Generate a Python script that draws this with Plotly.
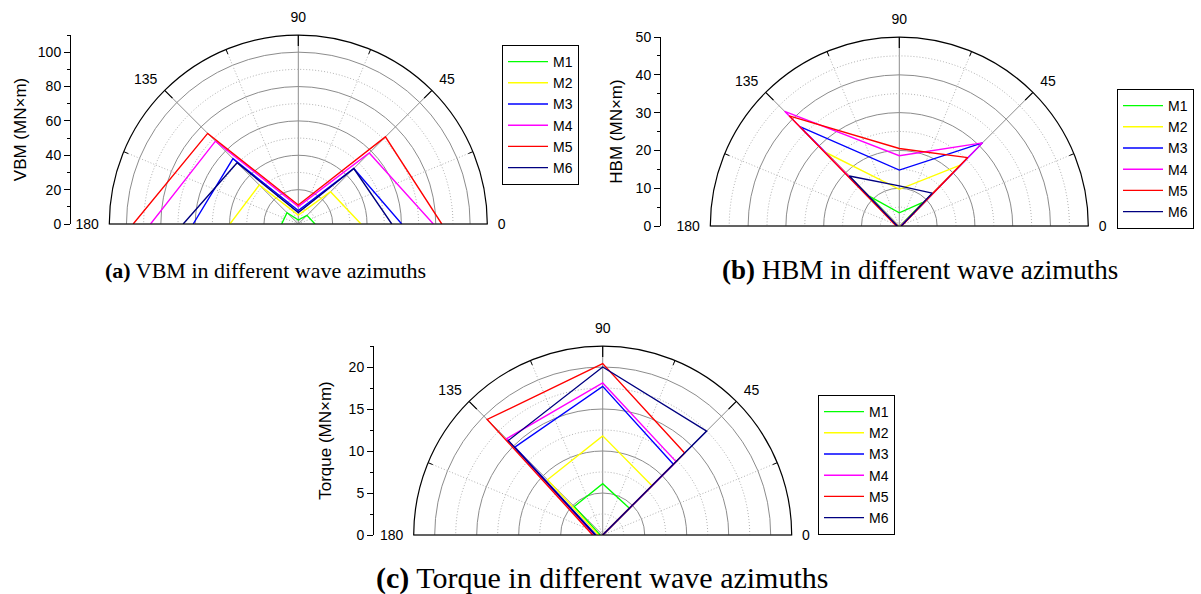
import numpy as np
import plotly.graph_objects as go

W, H = 1201, 594

# ---------------- data ----------------
angles = [0, 45, 90, 135, 180]          # wave azimuth (deg)
angle_labels = ["0", "45", "90", "135", "180"]
series_names = ["M1", "M2", "M3", "M4", "M5", "M6"]
series_colors = ["#00ff00", "#ffff00", "#0000ff", "#ff00ff", "#ff0000", "#000080"]

# (a) VBM (MN×m) at azimuths 0,45,90,135,180
vbm_m1 = [9.7, 7.1, 2.3, 9.3, 9.7]
vbm_m2 = [36.5, 26.5, 5.2, 32.1, 39.8]
vbm_m3 = [60.2, 45.7, 7.8, 53.8, 61.2]
vbm_m4 = [78.6, 58.4, 10.1, 68.2, 86.0]
vbm_m5 = [83.5, 71.7, 11.1, 74.6, 96.1]
vbm_m6 = [54.4, 45.7, 6.6, 50.4, 67.0]

# (b) HBM (MN×m)
hbm_m1 = [0.3, 8.8, 3.5, 11.1, 0.3]
hbm_m2 = [0.3, 22.8, 9.7, 27.5, 0.3]
hbm_m3 = [0.5, 31.1, 14.8, 37.2, 0.5]
hbm_m4 = [0.4, 31.1, 18.6, 42.9, 0.4]
hbm_m5 = [0.6, 25.6, 20.5, 41.2, 0.8]
hbm_m6 = [0.5, 12.3, 10.6, 18.7, 0.5]

# (c) Torque (MN×m)
tq_m1 = [0.0, 4.5, 6.1, 4.8, 0.3]
tq_m2 = [0.0, 8.3, 11.8, 9.3, 0.5]
tq_m3 = [0.0, 11.9, 17.7, 14.8, 0.8]
tq_m4 = [0.0, 12.35, 18.1, 16.2, 1.0]
tq_m5 = [0.0, 13.8, 20.4, 19.45, 1.2]
tq_m6 = [0.0, 17.5, 20.0, 15.9, 0.9]

# ---------------- panel configuration ----------------
R = 189.0  # polar radius in px
panels = [
    dict(sp="polar", n="", data=[vbm_m1, vbm_m2, vbm_m3, vbm_m4, vbm_m5, vbm_m6],
         rmax=110, grid_step=20, minor_step=10, title="VBM (MN×m)",
         cx=298.3, cy=224, axis_x=71, standoff=6, legend="legend",
         leg=(502, 45), caption=("(a)", " VBM in different wave azimuths"),
         cap=(265, 270), capsize=22),
    dict(sp="polar2", n="2", data=[hbm_m1, hbm_m2, hbm_m3, hbm_m4, hbm_m5, hbm_m6],
         rmax=50, grid_step=10, minor_step=5, title="HBM (MN×m)",
         cx=899.3, cy=226, axis_x=661, standoff=8, legend="legend2",
         leg=(1117, 89), caption=("(b)", " HBM in different wave azimuths"),
         cap=(920, 270), capsize=27),
    dict(sp="polar3", n="3", data=[tq_m1, tq_m2, tq_m3, tq_m4, tq_m5, tq_m6],
         rmax=22.5, grid_step=5, minor_step=2.5, title="Torque (MN×m)",
         cx=602.7, cy=535, axis_x=374, standoff=12, legend="legend3",
         leg=(818, 395), caption=("(c)", " Torque in different wave azimuths"),
         cap=(602, 578), capsize=30),
]

SOLID_GRID = "#8c8c8c"
DOT_GRID = "#b0b0b0"
FONT = "Liberation Sans"

fig = go.Figure()
layout = dict(template="none", width=W, height=H, margin=dict(l=0, r=0, t=0, b=0, pad=0),
              paper_bgcolor="white", plot_bgcolor="white", showlegend=True,
              annotations=[])

th_arc = np.linspace(0, 180, 181)
minor_angles = [22.5, 67.5, 112.5, 157.5]
major_tick_angles = [45, 90, 135]

for p in panels:
    sp, rmax = p["sp"], p["rmax"]
    solid = list(np.arange(p["grid_step"], rmax, p["grid_step"]))
    dotted = list(np.arange(p["minor_step"], rmax, p["grid_step"]))
    # dotted circles
    for lv in dotted:
        fig.add_trace(go.Scatterpolar(r=np.full_like(th_arc, lv), theta=th_arc, mode="lines",
                                      line=dict(color=DOT_GRID, width=1, dash="1px,2px"),
                                      subplot=sp, showlegend=False, hoverinfo="skip"))
    # dotted radial lines + minor ticks on outer arc
    for a in minor_angles:
        fig.add_trace(go.Scatterpolar(r=[0, rmax], theta=[a, a], mode="lines",
                                      line=dict(color=DOT_GRID, width=1, dash="1px,2px"),
                                      subplot=sp, showlegend=False, hoverinfo="skip"))
        fig.add_trace(go.Scatterpolar(r=[rmax * (1 - 5 / R), rmax], theta=[a, a], mode="lines",
                                      line=dict(color="black", width=1),
                                      subplot=sp, showlegend=False, hoverinfo="skip"))
    # major inward ticks on outer arc
    for a in major_tick_angles:
        fig.add_trace(go.Scatterpolar(r=[rmax * (1 - 11 / R), rmax], theta=[a, a], mode="lines",
                                      line=dict(color="black", width=1.2),
                                      subplot=sp, showlegend=False, hoverinfo="skip"))
    # data series
    for name, color, vals in zip(series_names, series_colors, p["data"]):
        fig.add_trace(go.Scatterpolar(r=vals, theta=angles, mode="lines", name=name,
                                      line=dict(color=color, width=1.4),
                                      subplot=sp, legend=p["legend"]))

    cx, cy = p["cx"], p["cy"]
    ydom = [(H - cy) / H, (H - cy + R) / H]
    layout[sp] = dict(
        domain=dict(x=[(cx - R) / W, (cx + R) / W], y=ydom),
        sector=[0, 180], bgcolor="white",
        radialaxis=dict(range=[0, rmax], tickvals=solid, showticklabels=False, ticks="",
                        showline=False, gridcolor=SOLID_GRID, gridwidth=1),
        angularaxis=dict(tickmode="array", tickvals=angles, ticktext=angle_labels,
                         ticks="outside", ticklen=7, tickcolor="rgba(0,0,0,0)", tickwidth=1,
                         showline=True, linecolor="black", linewidth=1.2,
                         gridcolor=SOLID_GRID, gridwidth=1,
                         direction="counterclockwise", rotation=0,
                         tickfont=dict(family=FONT, size=14, color="black")),
    )

    # cartesian y axis acting as the radial scale on the left
    n = p["n"]
    fig.add_trace(go.Scatter(x=[], y=[], xaxis="x" + n, yaxis="y" + n,
                             showlegend=False, hoverinfo="skip"))
    layout["xaxis" + n] = dict(domain=[p["axis_x"] / W, p["axis_x"] / W + 0.01],
                               visible=False, range=[0, 1], anchor="y" + n,
                               automargin=False)
    layout["yaxis" + n] = dict(
        anchor="x" + n, domain=ydom, range=[0, rmax], automargin=False,
        showline=True, linecolor="black", linewidth=1,
        ticks="outside", ticklen=6, tickcolor="black", tickwidth=1,
        tickmode="linear", tick0=0, dtick=p["grid_step"],
        minor=dict(dtick=p["minor_step"], tick0=0, ticks="outside", ticklen=3,
                   tickcolor="black", showgrid=False),
        showgrid=False, zeroline=False,
        tickfont=dict(family=FONT, size=14, color="black"),
        title=dict(text=p["title"], font=dict(family=FONT, size=17, color="black"),
                   standoff=p["standoff"]),
    )

    lx, ly = p["leg"]
    layout[p["legend"]] = dict(x=lx / W, y=1 - ly / H, xanchor="left", yanchor="top",
                               bgcolor="white", bordercolor="black", borderwidth=1,
                               font=dict(family=FONT, size=14, color="black"),
                               itemwidth=40, tracegroupgap=0)

    bold, rest = p["caption"]
    capx, capy = p["cap"]
    layout["annotations"].append(dict(
        text=f"<b>{bold}</b>{rest}", x=capx / W, y=1 - capy / H, xref="paper", yref="paper",
        xanchor="center", yanchor="middle", showarrow=False,
        font=dict(family="Liberation Serif", size=p["capsize"], color="black")))

fig.update_layout(**layout)
fig.write_html("out.html")
